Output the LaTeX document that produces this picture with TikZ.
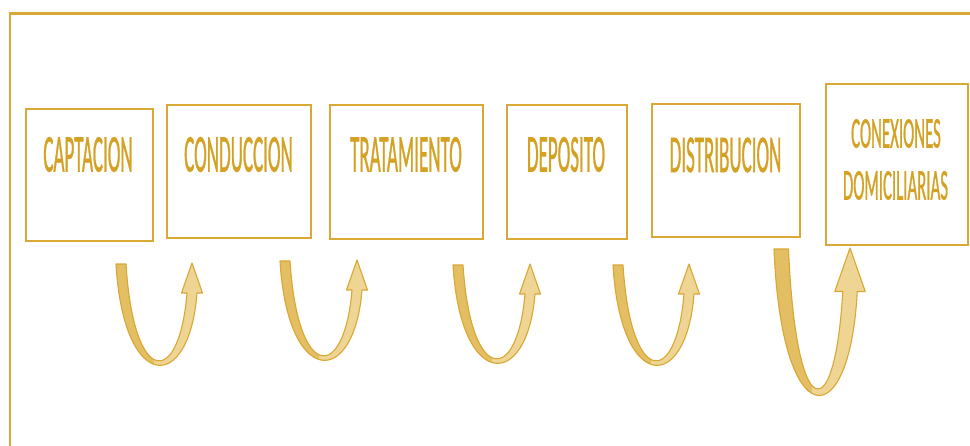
\documentclass[tikz,border=0pt]{standalone}
\usepackage{fontspec}
\setmainfont{Carlito}
\newfontfamily\lblfont{Carlito}[FakeBold=1.3]
\usepackage{graphicx}
\definecolor{linegold}{RGB}{218,168,53}
\definecolor{txtgold}{RGB}{212,161,34}
\definecolor{arrdark}{RGB}{227,190,98}
\definecolor{arrlight}{RGB}{238,213,148}
\definecolor{arrline}{RGB}{217,167,51}
\newcommand{\uarrow}[5]{%
  \pgfmathsetmacro{\uL}{#1}%
  \pgfmathsetmacro{\uT}{#2}%
  \pgfmathsetmacro{\uW}{#5}%
  \pgfmathsetmacro{\uLi}{#1+#5}%
  \pgfmathsetmacro{\uH}{#2-1+3*#5}%
  \pgfmathsetmacro{\uTipX}{#1+#3}%
  \pgfmathsetmacro{\uTipY}{#2-1}%
  \pgfmathsetmacro{\uRo}{#1+#3+0.5*#5}%
  \pgfmathsetmacro{\uRi}{#1+#3-0.5*#5}%
  \pgfmathsetmacro{\uBo}{#1+#3+1.05*#5}%
  \pgfmathsetmacro{\uBi}{#1+#3-1.05*#5}%
  \pgfmathsetmacro{\uYo}{(#2+#4-0.125*(#2+\uH))/0.75}%
  \pgfmathsetmacro{\uYi}{(#2+#4-0.45*#5-0.125*(#2+\uH))/0.75}%
  \pgfmathsetmacro{\uA}{0.1*#3}%
  \pgfmathsetmacro{\uAi}{0.1*#3}%
  \pgfmathsetmacro{\uSplit}{#1+0.5*#3}%
  \pgfmathsetmacro{\uLo}{#1-30}%
  \pgfmathsetmacro{\uTo}{#2-60}%
  \pgfmathsetmacro{\uBot}{#2+#4+30}%
  \filldraw[fill=arrlight, draw=arrline, line width=1.1pt, line join=round,
    path picture={\fill[arrdark] (\uLo,\uTo) rectangle (\uSplit,\uBot);}]
    (\uL,\uT) .. controls (\uL+\uA,\uYo) and (\uRo-\uA,\uYo) .. (\uRo,\uH)
    -- (\uBo,\uH) -- (\uTipX,\uTipY) -- (\uBi,\uH) -- (\uRi,\uH)
    .. controls (\uRi-\uAi,\uYi) and (\uLi+\uAi,\uYi) .. (\uLi,\uT) -- cycle;
}
\begin{document}
\begin{tikzpicture}[x=1pt,y=-1pt,
  box/.style={draw=linegold, line width=2.3pt, fill=white, inner sep=0pt},
  lbl/.style={inner sep=0pt, text=txtgold, font=\lblfont\fontsize{19}{21}\selectfont},
  lblsm/.style={inner sep=0pt, text=txtgold, font=\lblfont\fontsize{16.8}{18}\selectfont}]
\useasboundingbox (0,0) rectangle (970,445);
\fill[white] (0,0) rectangle (970,445);
% open frame
\draw[linegold, line width=3pt] (9,13) -- (972,13);
\draw[linegold, line width=2pt] (10,13) -- (10,447);
% boxes
\node[box, minimum width=127pt, minimum height=132pt] (b1) at (89.5,175) {};
\node[box, minimum width=144pt, minimum height=133pt] (b2) at (239,171.5) {};
\node[box, minimum width=153pt, minimum height=134pt] (b3) at (406.5,172) {};
\node[box, minimum width=120pt, minimum height=134pt] (b4) at (567,172) {};
\node[box, minimum width=148pt, minimum height=133pt] (b5) at (726,170.5) {};
\node[box, minimum width=142pt, minimum height=161pt] (b6) at (897,164.5) {};
% labels
\node[lbl] (t1) at (88,154.5) {\scalebox{1}[2.8]{CAPTACION}};
\node[lbl] (t2) at (238.5,154.5) {\scalebox{1}[2.8]{CONDUCCION}};
\node[lbl] (t3) at (406,154.5) {\scalebox{1}[2.8]{TRATAMIENTO}};
\node[lbl] (t4) at (566,154.5) {\scalebox{1}[2.8]{DEPOSITO}};
\node[lbl] (t5) at (725.5,155) {\scalebox{1}[2.8]{DISTRIBUCION}};
\node[lblsm] (t6) at (896,133.5) {\scalebox{1}[2.6]{CONEXIONES}};
\node[lblsm] (t7) at (895.5,185.5) {\scalebox{1}[2.6]{DOMICILIARIAS}};
% U-turn arrows
\uarrow{116}{264}{76}{101}{10}
\uarrow{280}{261}{77}{99}{10}
\uarrow{453}{265}{77}{98}{10}
\uarrow{613}{265}{76}{100}{10}
\uarrow{774}{249}{76}{146}{14.5}
\end{tikzpicture}
\end{document}
